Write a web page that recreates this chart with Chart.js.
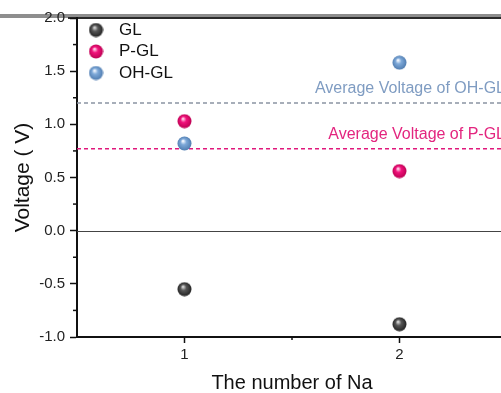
<!DOCTYPE html>
<html>
<head>
<meta charset="utf-8">
<script src="https://cdn.jsdelivr.net/npm/chart.js@4"></script>
<style>
  html, body { margin: 0; padding: 0; background: #fff; overflow: hidden; }
  #wrap { width: 515px; height: 393px; position: relative; }
</style>
</head>
<body>
<div id="wrap"><canvas id="na_chart"></canvas></div>
<script>
// values
var naCount = [1, 2];
var glVolt = [-0.55, -0.88];
var pglVolt = [1.03, 0.56];
var ohglVolt = [0.82, 1.58];
var avgPGL = 0.77;
var avgOHGL = 1.20;
var xTicks = [1, 2];
var xMinor = [1.5];
var yTicks = [-1.0, -0.5, 0.0, 0.5, 1.0, 1.5, 2.0];
var yMinor = [-0.75, -0.25, 0.25, 0.75, 1.25, 1.75];

var FONT = "'Liberation Sans', Arial, sans-serif";

// little shaded ball used as marker
function ball(hi, mid, edge) {
  var c = document.createElement('canvas');
  c.width = 15; c.height = 15;
  var g = c.getContext('2d');
  var grd = g.createRadialGradient(6, 5, 0.5, 7.5, 7.5, 7.5);
  grd.addColorStop(0, hi);
  grd.addColorStop(0.35, mid);
  grd.addColorStop(1, edge);
  g.fillStyle = grd;
  g.beginPath();
  g.arc(7.5, 7.5, 7, 0, Math.PI * 2);
  g.fill();
  return c;
}
var ballGL = ball('#d8d8d8', '#575757', '#1e1e1e');
var ballPGL = ball('#ffd6ea', '#f2127c', '#b8004f');
var ballOH = ball('#f2f7ff', '#7ea9d9', '#4c79ad');

function pts(vals) {
  return naCount.map(function (n, i) { return {x: n, y: vals[i]}; });
}

function hline(ctx, a, y, color, dash) {
  ctx.strokeStyle = color;
  ctx.setLineDash(dash);
  ctx.beginPath();
  ctx.moveTo(a.left, y);
  ctx.lineTo(a.right, y);
  ctx.stroke();
}

var extras = {
  id: 'extras',
  beforeDraw: function (chart) {
    var ctx = chart.ctx, a = chart.chartArea;
    ctx.save();
    // top frame band, behind the tick labels
    ctx.fillStyle = '#8e8e8e';
    ctx.fillRect(0, a.top - 4, chart.width, 4);
    ctx.fillStyle = '#2a2a2a';
    ctx.fillRect(68, a.top - 1, chart.width, 2);
    ctx.restore();
  },
  beforeDatasetsDraw: function (chart) {
    var ctx = chart.ctx, a = chart.chartArea;
    var ys = chart.scales.y;
    ctx.save();
    ctx.lineWidth = 1;
    var y0 = Math.round(ys.getPixelForValue(0)) + 0.5;
    hline(ctx, a, y0, '#444', []);
    ctx.lineWidth = 1.4;
    var yo = ys.getPixelForValue(avgOHGL);
    var yp = ys.getPixelForValue(avgPGL);
    hline(ctx, a, yo, '#8a94a2', [4, 3]);
    hline(ctx, a, yp, '#e0187c', [4, 3]);
    ctx.setLineDash([]);
    ctx.font = '16px ' + FONT;
    ctx.textAlign = 'right';
    ctx.textBaseline = 'alphabetic';
    ctx.fillStyle = '#7f9cc2';
    ctx.fillText('Average Voltage of OH-GL', 505, yo - 10);
    ctx.fillStyle = '#e3257f';
    ctx.fillText('Average Voltage of P-GL', 505, yp - 10);
    ctx.restore();
  },
  afterDraw: function (chart) {
    var ctx = chart.ctx, a = chart.chartArea;
    var xs = chart.scales.x, ys = chart.scales.y;
    ctx.save();
    // minor ticks
    ctx.strokeStyle = '#111';
    ctx.lineWidth = 1.5;
    yMinor.forEach(function (v) {
      var y = ys.getPixelForValue(v);
      ctx.beginPath();
      ctx.moveTo(a.left - 4, y);
      ctx.lineTo(a.left, y);
      ctx.stroke();
    });
    xMinor.forEach(function (v) {
      var x = xs.getPixelForValue(v);
      ctx.beginPath();
      ctx.moveTo(x, a.bottom);
      ctx.lineTo(x, a.bottom + 3);
      ctx.stroke();
    });
    ctx.restore();
  }
};

var ctx = document.getElementById('na_chart').getContext('2d');
var na_chart = new Chart(ctx, {
  type: 'scatter',
  data: {
    datasets: [
      {label: 'GL', data: pts(glVolt), pointStyle: ballGL, pointRadius: 7, backgroundColor: '#555', borderColor: '#555'},
      {label: 'P-GL', data: pts(pglVolt), pointStyle: ballPGL, pointRadius: 7, backgroundColor: '#f2127c', borderColor: '#f2127c'},
      {label: 'OH-GL', data: pts(ohglVolt), pointStyle: ballOH, pointRadius: 7, backgroundColor: '#7ea9d9', borderColor: '#7ea9d9'}
    ]
  },
  options: {
    responsive: true,
    maintainAspectRatio: false,
    animation: false,
    layout: {padding: {top: 18, right: 6, left: 0, bottom: 0}},
    plugins: {
      tooltip: {enabled: false},
      legend: {
        position: 'chartArea',
        align: 'start',
        // empty title only pushes the rows down below the top frame
        title: {display: true, text: '', padding: 0, font: {size: 17, lineHeight: 1}},
        labels: {
          usePointStyle: true,
          pointStyleWidth: 29,
          padding: 4.5,
          color: '#111',
          font: {family: FONT, size: 17}
        }
      }
    },
    scales: {
      x: {
        type: 'linear',
        min: 0.5,
        max: 2.5,
        afterBuildTicks: function (s) { s.ticks = xTicks.map(function (v) { return {value: v}; }); },
        afterFit: function (s) { s.height = 56; },
        ticks: {
          padding: 3,
          color: '#222',
          font: {family: FONT, size: 15},
          callback: function (v) { return String(v); }
        },
        grid: {drawOnChartArea: false, drawTicks: true, tickLength: 6, tickColor: '#111', tickWidth: 1.5},
        border: {display: true, color: '#111', width: 2},
        title: {
          display: true,
          text: 'The number of Na',
          color: '#111',
          font: {family: FONT, size: 20, lineHeight: 1},
          padding: {top: 0, bottom: 0}
        }
      },
      y: {
        min: -1,
        max: 2,
        afterBuildTicks: function (s) { s.ticks = yTicks.map(function (v) { return {value: v}; }); },
        afterFit: function (s) { s.width = 77; },
        ticks: {
          padding: 5,
          color: '#222',
          font: {family: FONT, size: 15},
          callback: function (v) { return Number(v).toFixed(1); }
        },
        grid: {drawOnChartArea: false, drawTicks: true, tickLength: 7, tickColor: '#111', tickWidth: 1.5},
        border: {display: true, color: '#111', width: 2},
        title: {
          display: true,
          text: 'Voltage ( V)',
          color: '#111',
          font: {family: FONT, size: 21, lineHeight: 1},
          padding: {top: 13, bottom: 0}
        }
      }
    }
  },
  plugins: [extras]
});
</script>
</body>
</html>
